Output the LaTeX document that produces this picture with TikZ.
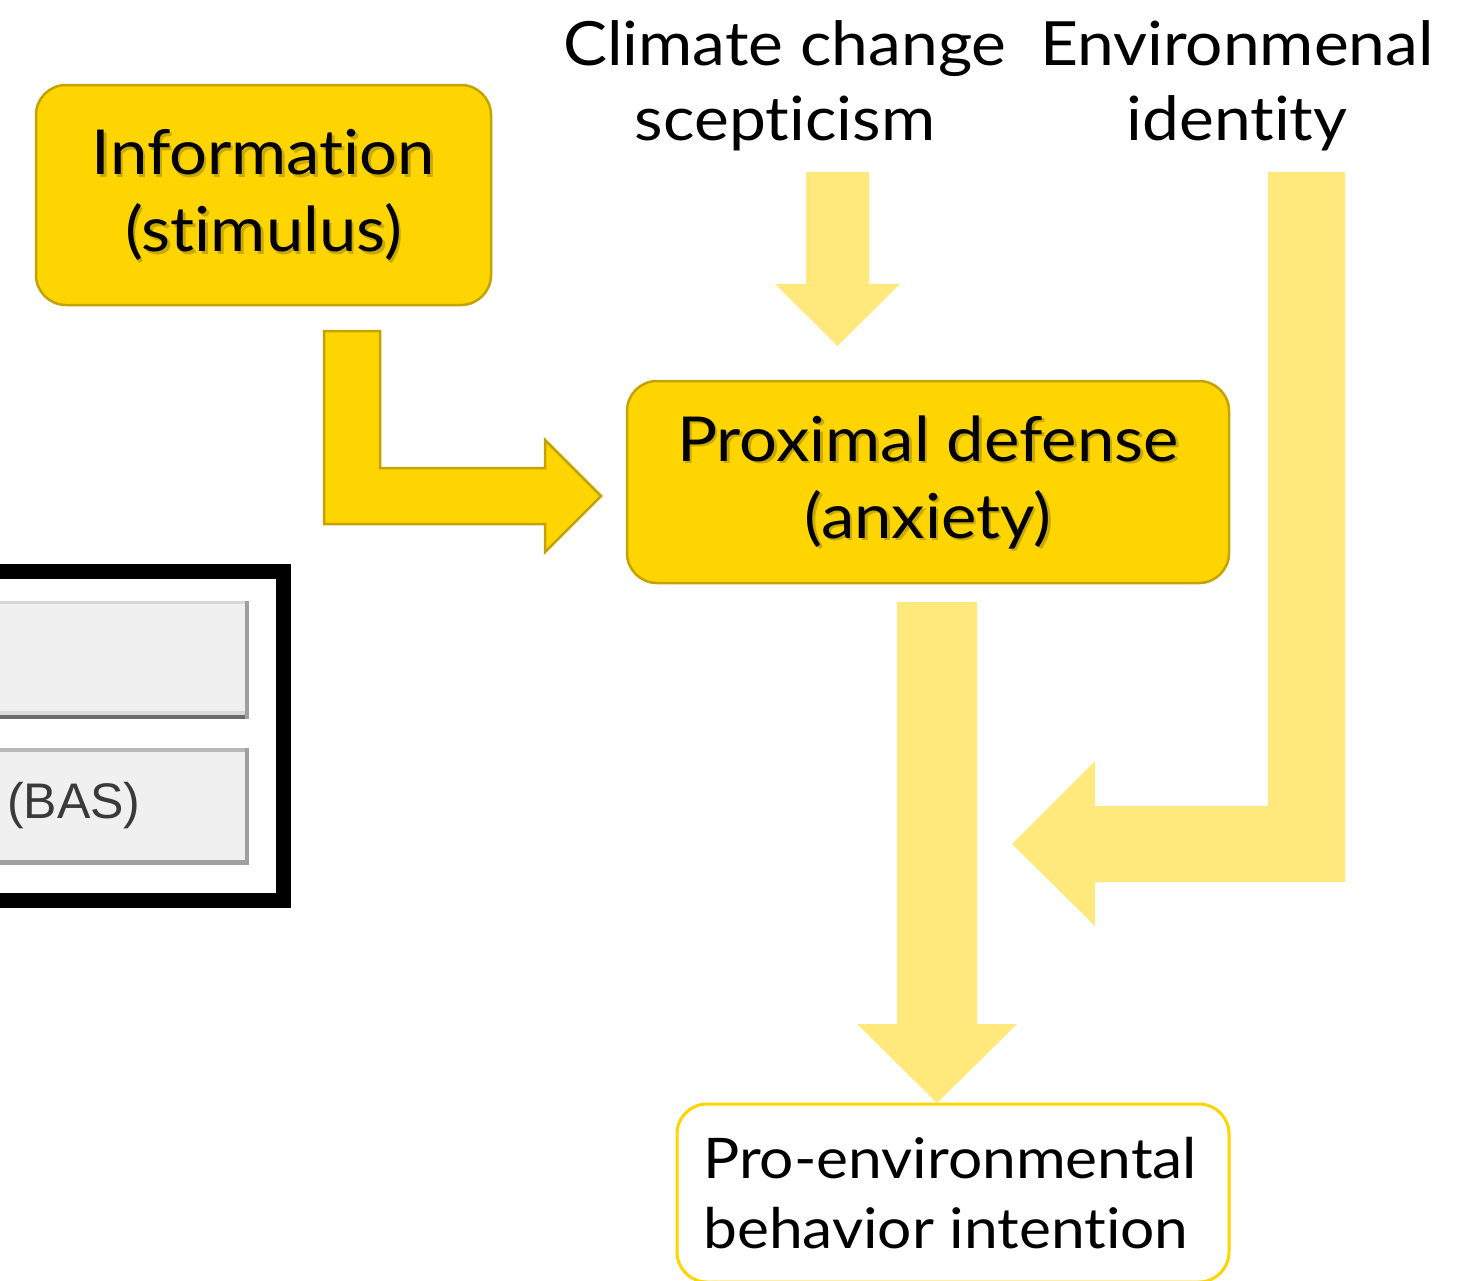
\documentclass[tikz,border=0pt]{standalone}
\usepackage{fontspec}
\setmainfont{Lato}[Ligatures=NoCommon, FakeStretch=1.08]
\setsansfont{Liberation Sans}
\usetikzlibrary{calc}
\definecolor{gold}{HTML}{FFD500}
\definecolor{golddark}{HTML}{C4A200}
\definecolor{lightgold}{HTML}{FFE87C}
\definecolor{shadowcol}{HTML}{7A6500}
\definecolor{panelbg}{HTML}{F0F0F0}
\definecolor{edgelight}{HTML}{D8D8D8}
\definecolor{edgemid}{HTML}{A0A0A0}
\definecolor{edgedark}{HTML}{6A6A6A}
\definecolor{bastxt}{HTML}{3A3A3A}
\tikzset{
  goldbox/.style={draw=golddark, line width=2.5pt, fill=gold, rounded corners=30pt, inner sep=0pt},
  whitebox/.style={draw=gold, line width=3pt, fill=white, rounded corners=30pt, inner sep=0pt},
  boxtxt/.style={align=center, inner sep=0pt, font=\fontsize{62}{77}\selectfont},
  shadowtxt/.style={boxtxt, text=shadowcol, opacity=0.4},
  labeltxt/.style={align=center, inner sep=0pt, font=\fontsize{61}{75}\selectfont},
  proenvtxt/.style={align=left, inner sep=0pt, font=\fontsize{56}{70}\selectfont},
  goldarrow/.style={fill=gold, draw=golddark, line width=2.5pt, line join=miter},
  lightarrow/.style={fill=lightgold},
}
\begin{document}
\begin{tikzpicture}[x=1pt,y=-1pt]
\useasboundingbox (0,0) rectangle (1458,1280);
\clip (0,0) rectangle (1458,1280);

% boxes
\node[goldbox, minimum width=455pt, minimum height=220pt] (info) at (263.5,195) {};
\node[shadowtxt] (infoS) at ([shift={(2.5,2.5)}]info.center) {Information\\(stimulus)};
\node[boxtxt] (infoT) at (info.center) {Information\\(stimulus)};

\node[goldbox, minimum width=602pt, minimum height=202pt] (prox) at (928,482) {};
\node[shadowtxt] (proxS) at ([shift={(2.5,2.5)}]prox.center) {Proximal defense\\(anxiety)};
\node[boxtxt] (proxT) at (prox.center) {Proximal defense\\(anxiety)};

\node[whitebox, minimum width=552pt, minimum height=178pt] (proenv) at (953,1193) {};
\node[proenvtxt, anchor=west] (proenvT) at (703,1193) {Pro-environmental\\behavior intention};

% top labels
\node[labeltxt] (scep) at (785,86) {Climate change\\scepticism};
\node[labeltxt] (envid) at (1237,86) {Environmenal\\identity};

% block arrows
\draw[goldarrow] (324,331) -- (380,331) -- (380,468) -- (545,468) -- (545,440) -- (601,496)
  -- (545,552) -- (545,524) -- (324,524) -- cycle;
\fill[lightarrow] (806,172) -- (869,172) -- (869,284) -- (900,284) -- (837.5,346)
  -- (775,284) -- (806,284) -- cycle;
\fill[lightarrow] (1268,172) -- (1345,172) -- (1345,882) -- (1095,882) -- (1095,926)
  -- (1012,844) -- (1095,761) -- (1095,806) -- (1268,806) -- cycle;
\fill[lightarrow] (897,602) -- (977,602) -- (977,1024) -- (1017,1024) -- (937,1103)
  -- (857,1024) -- (897,1024) -- cycle;

% cropped panel on the left
\fill[panelbg] (-5,601) rectangle (248,718);
\fill[edgelight] (-5,601) rectangle (246,604);
\fill[edgelight] (-5,711) rectangle (246,715);
\fill[edgedark] (-5,715) rectangle (248,719);
\fill[edgemid] (245,601) rectangle (249,719);

\fill[panelbg] (-5,748) rectangle (248,864);
\fill[edgelight!85!black] (-5,748) rectangle (246,752);
\fill[edgemid] (-5,860) rectangle (248,865);
\fill[edgemid] (245,748) rectangle (249,865);
\node[anchor=west, inner sep=0pt, text=bastxt, font=\sffamily\fontsize{50}{60}\selectfont] (bas) at (7,806) {(BAS)};

\draw[line width=15pt, line join=miter] (-20,571) -- (283,571) -- (283,900) -- (-20,900);
\end{tikzpicture}
\end{document}
